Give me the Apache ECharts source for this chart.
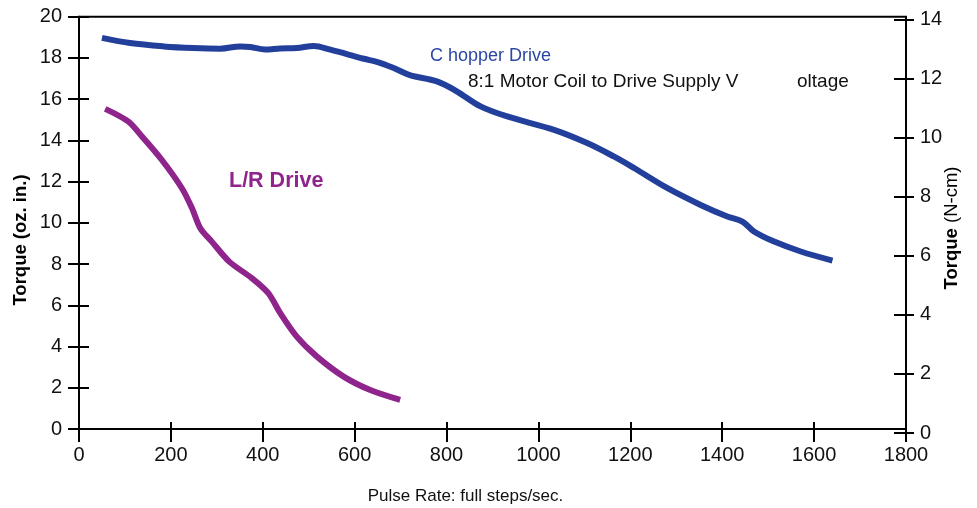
<!DOCTYPE html>
<html>
<head>
<meta charset="utf-8">
<script src="https://cdn.jsdelivr.net/npm/echarts@6/dist/echarts.min.js"></script>
<style>html,body{margin:0;padding:0;background:#fff}#c{width:977px;height:508px}</style>
</head>
<body>
<div id="c"></div>
<script>
// ---- data ----
var xTicks = [0,200,400,600,800,1000,1200,1400,1600,1800];
var leftTicks = [0,2,4,6,8,10,12,14,16,18,20];
var rightTicks = [0,2,4,6,8,10,12,14];

var chopperX = [50,111,184,249,307,351,373,405,438,474,511,547,620,650,685,720,779,823,874,932,1034,1106,1164,1208,1281,1353,1411,1444,1469,1513,1571,1640];
var chopperY = [18.97,18.72,18.56,18.48,18.45,18.56,18.53,18.41,18.46,18.48,18.58,18.40,17.96,17.80,17.51,17.17,16.86,16.37,15.65,15.16,14.51,13.87,13.22,12.66,11.68,10.87,10.31,10.06,9.58,9.09,8.61,8.17];

var lrX = [57,107,137,180,224,246,264,289,327,376,412,438,474,518,576,634,699];
var lrY = [15.53,14.92,14.19,13.06,11.68,10.71,9.74,9.09,8.12,7.32,6.59,5.62,4.48,3.51,2.54,1.89,1.41];

var xName = 'Pulse Rate: full steps/sec.';
var leftName = 'Torque (oz. in.)';
var rightNameBold = 'Torque';
var rightNameRest = ' (N-cm)';
var chopperLabel = 'C hopper Drive';
var noteLabelA = '8:1 Motor Coil to Drive Supply V';
var noteLabelB = 'oltage';
var lrLabel = 'L/R Drive';

// ---- chart ----
var BLUE = '#22409b';
var PURPLE = '#8e248c';
var FONT = "'Liberation Sans', Arial, Helvetica, sans-serif";

function zip(xs, ys){ return xs.map(function(x,i){ return [x, ys[i]]; }); }
function plain(v){ return String(v); }

var chart = echarts.init(document.getElementById('c'), null, {renderer:'canvas'});
var lineStyleAxis = {color:'#000', width:2};

chart.setOption({
  animation:false,
  backgroundColor:'#fff',
  grid:[
    {left:79, right:71, top:16.7, bottom:79, show:true, borderColor:'#000', borderWidth:2, containLabel:false},
    {left:79, right:71, top:19.5, bottom:75, containLabel:false}
  ],
  xAxis:[
    {type:'value', gridIndex:0, position:'bottom', min:xTicks[0], max:xTicks[xTicks.length-1], interval:xTicks[1]-xTicks[0],
     axisLine:{show:true, onZero:false, lineStyle:lineStyleAxis},
     axisTick:{show:true, inside:false, length:13, lineStyle:{color:'#000', width:2}},
     axisLabel:{show:true, margin:16, color:'#111', fontSize:20, fontFamily:FONT, formatter:plain},
     splitLine:{show:false}},
    {type:'value', gridIndex:0, position:'bottom', min:xTicks[0], max:xTicks[xTicks.length-1], interval:xTicks[1]-xTicks[0],
     axisLine:{show:false, onZero:false},
     axisTick:{show:true, inside:true, length:7, lineStyle:{color:'#000', width:2}},
     axisLabel:{show:false}, splitLine:{show:false}},
    {type:'value', gridIndex:1, show:false, min:0, max:1800}
  ],
  yAxis:[
    {type:'value', gridIndex:0, position:'left', min:leftTicks[0], max:leftTicks[leftTicks.length-1], interval:leftTicks[1]-leftTicks[0],
     axisLine:{show:true, onZero:false, lineStyle:lineStyleAxis},
     axisTick:{show:true, inside:false, length:11, lineStyle:{color:'#000', width:2}},
     axisLabel:{show:true, margin:17, color:'#111', fontSize:20, fontFamily:FONT, formatter:plain},
     splitLine:{show:false}},
    {type:'value', gridIndex:0, position:'left', min:leftTicks[0], max:leftTicks[leftTicks.length-1], interval:leftTicks[1]-leftTicks[0],
     axisLine:{show:false, onZero:false},
     axisTick:{show:true, inside:true, length:10, lineStyle:{color:'#000', width:2}},
     axisLabel:{show:false}, splitLine:{show:false}},
    {type:'value', gridIndex:1, position:'right', min:rightTicks[0], max:rightTicks[rightTicks.length-1], interval:rightTicks[1]-rightTicks[0],
     axisLine:{show:true, onZero:false, lineStyle:lineStyleAxis},
     axisTick:{show:true, inside:false, length:8, lineStyle:{color:'#000', width:2}},
     axisLabel:{show:true, margin:14, color:'#111', fontSize:20, fontFamily:FONT, formatter:plain},
     splitLine:{show:false}},
    {type:'value', gridIndex:1, position:'right', min:rightTicks[0], max:rightTicks[rightTicks.length-1], interval:rightTicks[1]-rightTicks[0],
     axisLine:{show:false, onZero:false},
     axisTick:{show:true, inside:true, length:12, lineStyle:{color:'#000', width:2}},
     axisLabel:{show:false}, splitLine:{show:false}}
  ],
  series:[
    {name:chopperLabel, type:'line', xAxisIndex:0, yAxisIndex:0, data:zip(chopperX, chopperY),
     smooth:0.35, showSymbol:false, symbol:'none', lineStyle:{color:BLUE, width:6}, z:3},
    {name:lrLabel, type:'line', xAxisIndex:0, yAxisIndex:0, data:zip(lrX, lrY),
     smooth:0.3, showSymbol:false, symbol:'none', lineStyle:{color:PURPLE, width:6}, z:3}
  ],
  graphic:[
    {type:'text', x:21, y:240, rotation:Math.PI/2,
     style:{text:leftName, fill:'#000', font:'bold 18.5px '+FONT, align:'center', verticalAlign:'middle'}},
    {type:'text', x:952, y:228, rotation:Math.PI/2,
     style:{text:'{b|'+rightNameBold+'}{r|'+rightNameRest+'}', align:'center', verticalAlign:'middle',
       rich:{b:{fill:'#000', fontWeight:'bold', fontSize:18.5, fontFamily:FONT},
             r:{fill:'#000', fontWeight:'normal', fontSize:18.5, fontFamily:FONT}}}},
    {type:'text', x:465.5, y:496,
     style:{text:xName, fill:'#111', font:'17px '+FONT, align:'center', verticalAlign:'middle'}},
    {type:'text', x:430, y:56,
     style:{text:chopperLabel, fill:'#2c47a3', font:'18px '+FONT, align:'left', verticalAlign:'middle'}},
    {type:'text', x:468, y:82,
     style:{text:noteLabelA, fill:'#111', font:'19px '+FONT, align:'left', verticalAlign:'middle'}},
    {type:'text', x:797, y:82,
     style:{text:noteLabelB, fill:'#111', font:'19px '+FONT, align:'left', verticalAlign:'middle'}},
    {type:'text', x:229, y:181,
     style:{text:lrLabel, fill:PURPLE, font:'bold 21.5px '+FONT, align:'left', verticalAlign:'middle'}}
  ]
});
</script>
</body>
</html>
